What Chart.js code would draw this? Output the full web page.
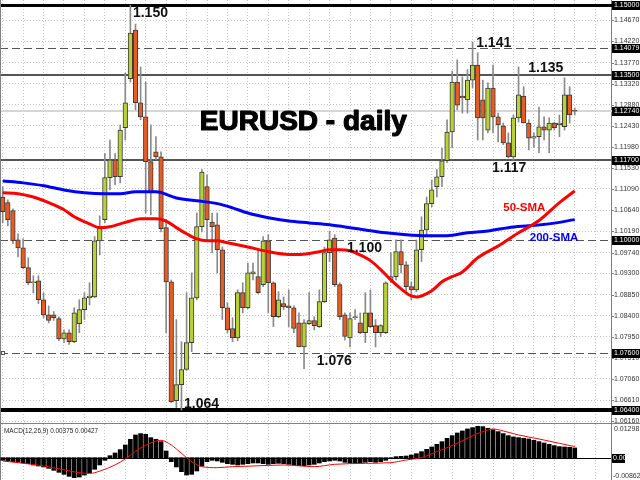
<!DOCTYPE html>
<html>
<head>
<meta charset="utf-8">
<script src="https://cdn.jsdelivr.net/npm/chart.js@4.4.1/dist/chart.umd.min.js"></script>
<style>
  html, body { margin: 0; padding: 0; background: #fff; }
  #wrap { position: relative; width: 640px; height: 480px; overflow: hidden; background: #fff; }
  #c_main { position: absolute; left: 0; top: 0; }
  #sep { position: absolute; left: 0; top: 423px; width: 640px; height: 1px; background: #808080; }
  #c_macd { position: absolute; left: 0; top: 424px; }
</style>
</head>
<body>
<div id="wrap">
  <canvas id="c_main" width="640" height="423"></canvas>
  <div id="sep"></div>
  <canvas id="c_macd" width="640" height="56"></canvas>
</div>
<script>
// EURUSD daily candles (oldest first)
const opens = [1.1092,1.1080,1.1063,1.1001,1.0984,1.0942,1.0910,1.0914,1.0874,1.0842,
  1.0842,1.0834,1.0791,1.0804,1.0785,1.0823,1.0853,1.0878,1.0880,1.0999,
  1.1044,1.1133,1.1171,1.1135,1.1239,1.1343,1.1446,1.1292,1.1262,1.1167,
  1.1188,1.1177,1.1027,1.0912,1.0660,1.0694,1.0726,1.0783,1.0878,1.1029,
  1.1114,1.1039,1.1033,1.0980,1.0857,1.0813,1.0793,1.0889,1.0857,1.0929,
  1.0923,1.0906,1.0999,1.0910,1.0838,1.0866,1.0861,1.0857,1.0825,1.0774,
  1.0823,1.0830,1.0817,1.0870,1.0974,1.1005,1.0906,1.0842,1.0793,1.0836,
  1.0825,1.0804,1.0846,1.0819,1.0804,1.0804,1.0916,1.0923,1.0976,1.0948,
  1.0902,1.0895,1.0980,1.1022,1.1078,1.1114,1.1135,1.1169,1.1230,1.1336,
  1.1306,1.1298,1.1340,1.1372,1.1298,1.1234,1.1323,1.1262,1.1243,1.1207,
  1.1177,1.1260,1.1306,1.1249,1.1217,1.1220,1.1241,1.1234,1.1249,1.1245,
  1.1241,1.1309,1.1275]
const highs = [1.1114,1.1086,1.1067,1.1014,1.1003,1.0963,1.0925,1.0925,1.0889,1.0861,
  1.0849,1.0838,1.0810,1.0810,1.0857,1.0874,1.0889,1.0910,1.1008,1.1052,
  1.1184,1.1213,1.1184,1.1245,1.1355,1.1499,1.1459,1.1368,1.1336,1.1245,
  1.1220,1.1188,1.1044,1.0916,1.0832,1.0785,1.0889,1.0931,1.1058,1.1150,
  1.1139,1.1058,1.1058,1.0986,1.0868,1.0836,1.0895,1.0910,1.0952,1.0952,
  1.0980,1.1008,1.1012,1.0912,1.0891,1.0880,1.0895,1.0861,1.0846,1.0832,
  1.0889,1.0838,1.0895,1.0986,1.1020,1.1012,1.0910,1.0846,1.0846,1.0853,
  1.0846,1.0889,1.0895,1.0832,1.0821,1.0912,1.0974,1.1001,1.1001,1.0955,
  1.0912,1.1001,1.1050,1.1092,1.1128,1.1150,1.1196,1.1256,1.1359,1.1383,
  1.1347,1.1362,1.1421,1.1398,1.1340,1.1334,1.1372,1.1270,1.1249,1.1228,
  1.1266,1.1368,1.1326,1.1256,1.1228,1.1283,1.1262,1.1260,1.1251,1.1266,
  1.1345,1.1326,1.1281]
const lows = [1.1037,1.1031,1.0993,1.0965,1.0940,1.0906,1.0889,1.0866,1.0836,1.0825,
  1.0830,1.0787,1.0783,1.0779,1.0783,1.0804,1.0832,1.0863,1.0878,1.0969,
  1.1037,1.1107,1.1118,1.1122,1.1213,1.1336,1.1277,1.1256,1.1058,1.1054,
  1.1171,1.1018,1.0804,1.0656,1.0645,1.0640,1.0724,1.0764,1.0874,1.1018,
  1.1001,1.0974,1.0931,1.0832,1.0804,1.0785,1.0787,1.0846,1.0855,1.0916,
  1.0887,1.0902,1.0846,1.0817,1.0836,1.0853,1.0817,1.0804,1.0774,1.0728,
  1.0821,1.0810,1.0815,1.0868,1.0955,1.0902,1.0832,1.0789,1.0774,1.0832,
  1.0802,1.0783,1.0815,1.0774,1.0796,1.0802,1.0910,1.0916,1.0931,1.0889,
  1.0874,1.0891,1.0955,1.1008,1.1071,1.1092,1.1114,1.1165,1.1196,1.1277,
  1.1270,1.1270,1.1323,1.1213,1.1213,1.1228,1.1228,1.1209,1.1203,1.1175,
  1.1170,1.1251,1.1249,1.1192,1.1198,1.1186,1.1213,1.1186,1.1234,1.1220,
  1.1234,1.1249,1.1266]
const closes = [1.1061,1.1044,1.0999,1.0984,1.0942,1.0910,1.0912,1.0874,1.0842,1.0830,
  1.0836,1.0791,1.0804,1.0785,1.0846,1.0853,1.0878,1.0882,1.0999,1.1029,
  1.1133,1.1171,1.1135,1.1234,1.1292,1.1440,1.1292,1.1262,1.1167,1.1101,
  1.1177,1.1025,1.0912,1.0658,1.0694,1.0726,1.0783,1.0878,1.1029,1.1145,
  1.1044,1.1029,1.0980,1.0857,1.0810,1.0793,1.0889,1.0857,1.0931,1.0933,
  1.0889,1.0999,1.0910,1.0838,1.0874,1.0859,1.0857,1.0813,1.0774,1.0825,
  1.0830,1.0819,1.0870,1.0974,1.1001,1.0906,1.0838,1.0796,1.0834,1.0838,
  1.0804,1.0846,1.0817,1.0804,1.0819,1.0910,1.0923,1.0976,1.0948,1.0902,
  1.0895,1.0980,1.1022,1.1078,1.1107,1.1135,1.1169,1.1230,1.1336,1.1287,
  1.1302,1.1340,1.1372,1.1260,1.1260,1.1323,1.1262,1.1245,1.1207,1.1177,
  1.1260,1.1309,1.1249,1.1217,1.1220,1.1241,1.1234,1.1249,1.1239,1.1249,
  1.1309,1.1266,1.1274]

// moving averages, read at a few candles
const sma50Idx = [0,3,6,9,12,14,17,19,21,23,25,27,30,32,34,36,38,40,42,44,48,52,56,58,60,62,64,66,68,70,72,74,76,78,80,81,82,84,86,88,90,93,97,101,105,109,112]
const sma50Val = [1.1101,1.1099,1.1092,1.1080,1.1065,1.1050,1.1035,1.1027,1.1029,1.1035,1.1041,1.1046,1.1046,1.1041,1.1027,1.1014,1.1003,1.0999,1.0999,1.0995,1.0986,1.0976,1.0970,1.0970,1.0972,1.0976,1.0980,1.0980,1.0978,1.0969,1.0957,1.0938,1.0916,1.0897,1.0882,1.0880,1.0882,1.0893,1.0912,1.0923,1.0933,1.0963,1.0988,1.1016,1.1042,1.1080,1.1105]
const sma200Idx = [0,4,8,12,16,20,23,26,30,34,38,42,45,48,52,56,60,64,68,71,75,79,83,87,91,95,99,103,107,112]
const sma200Val = [1.1126,1.1122,1.1116,1.1107,1.1101,1.1099,1.1099,1.1103,1.1103,1.1090,1.1084,1.1078,1.1069,1.1058,1.1048,1.1041,1.1037,1.1033,1.1027,1.1022,1.1016,1.1012,1.1010,1.1010,1.1016,1.1020,1.1027,1.1031,1.1035,1.1044]

// MACD(12,26,9): main as histogram, signal as line
const macdMain = [-0.00103,-0.00129,-0.00154,-0.00180,-0.00206,-0.00232,-0.00283,-0.00322,-0.00360,-0.00412,
  -0.00489,-0.00566,-0.00644,-0.00721,-0.00772,-0.00746,-0.00669,-0.00579,-0.00450,-0.00283,
  -0.00103,0.00077,0.00180,0.00309,0.00489,0.00708,0.00875,0.00927,0.00901,0.00772,
  0.00708,0.00618,0.00257,-0.00154,-0.00360,-0.00541,-0.00669,-0.00644,-0.00515,-0.00322,
  -0.00154,-0.00103,-0.00129,-0.00180,-0.00232,-0.00257,-0.00283,-0.00257,-0.00232,-0.00206,
  -0.00206,-0.00232,-0.00257,-0.00232,-0.00219,-0.00232,-0.00257,-0.00283,-0.00309,-0.00309,
  -0.00283,-0.00257,-0.00206,-0.00154,-0.00129,-0.00103,-0.00129,-0.00180,-0.00206,-0.00206,
  -0.00193,-0.00180,-0.00154,-0.00180,-0.00154,-0.00103,-0.00026,0.00039,0.00051,0.00064,
  0.00103,0.00154,0.00232,0.00322,0.00412,0.00515,0.00618,0.00746,0.00849,0.00952,
  0.01030,0.01107,0.01158,0.01210,0.01197,0.01133,0.01081,0.01004,0.00927,0.00849,
  0.00798,0.00772,0.00746,0.00721,0.00669,0.00618,0.00566,0.00515,0.00463,0.00425,
  0.00412,0.00400,0.00375]
const signalIdx = [0,7,11,15,17,19,22,24,26,29,31,33,35,37,39,42,45,49,55,61,65,71,76,79,82,85,89,92,95,96,98,101,105,109,112]
const signalVal = [-0.00129,-0.00290,-0.00430,-0.00580,-0.00610,-0.00520,-0.00280,-0.00050,0.00250,0.00570,0.00669,0.00489,0.00167,-0.00154,-0.00347,-0.00386,-0.00347,-0.00322,-0.00283,-0.00347,-0.00257,-0.00219,-0.00193,-0.00090,0.00000,0.00232,0.00553,0.00849,0.01068,0.01107,0.01030,0.00875,0.00721,0.00553,0.00427]

// right axis
const priceTicks = ['1.14670','1.14220','1.13770','1.13320','1.12880','1.12430','1.11980','1.11530','1.11090','1.10640',
  '1.10190','1.09740','1.09300','1.08850','1.08400','1.07950','1.07510','1.07060','1.06610','1.06160']
const levelVals = ['1.15000','1.14079','1.13500','1.12740','1.11700','1.10000','1.07600','1.06400']
const macdTicks = ['0.01298','-0.00862']

const FONT = '"Liberation Sans", Arial, sans-serif'
const N = opens.length
const idx = opens.map((_, i) => i)
const gridIdx = []
for (let i = 0; i < 120; i += 4) gridIdx.push(i)

const BULL = '#b8d236'
const BEAR = '#e65c22'
const isBull = idx.map(i => closes[i] >= opens[i])

const xAxis = () => ({
  type: 'linear', min: -0.53, max: 119.1, offset: false,
  afterBuildTicks: s => { s.ticks = gridIdx.map(v => ({ value: v })) },
  afterFit: s => { s.height = 0 },
  ticks: { display: false },
  grid: { color: '#c4c4c4', drawTicks: false, offset: false },
  border: { display: false, dash: [1, 2] }
})

// horizontal levels, same order as levelVals
const levelStyle = [
  { c: '#000', w: 3 }, { c: '#555', w: 1, d: [8, 4] }, { c: '#555', w: 2 }, { c: '#d6d6d6', w: 2 },
  { c: '#555', w: 2 }, { c: '#555', w: 1, d: [8, 4] }, { c: '#555', w: 1, d: [8, 4] }, { c: '#000', w: 4 }
]

const mainOverlay = {
  id: 'mainOverlay',
  beforeDatasetsDraw(chart) {
    const { ctx, chartArea: a, scales: { y } } = chart
    ctx.save()
    levelVals.forEach((v, k) => {
      const st = levelStyle[k]
      let py = Math.round(y.getPixelForValue(parseFloat(v)))
      if (st.w % 2) py += 0.5
      ctx.strokeStyle = st.c
      ctx.lineWidth = st.w
      ctx.setLineDash(st.d || [])
      ctx.beginPath(); ctx.moveTo(a.left, py); ctx.lineTo(a.right + 1, py); ctx.stroke()
    })
    // anchor square of the 1.076 line
    const sy = Math.round(y.getPixelForValue(1.076))
    ctx.setLineDash([])
    ctx.lineWidth = 1
    ctx.strokeStyle = '#555'
    ctx.fillStyle = '#fff'
    ctx.fillRect(1.5, sy - 1.5, 3, 3)
    ctx.strokeRect(1.5, sy - 1.5, 3, 3)
    // left border
    ctx.strokeStyle = '#808080'
    ctx.beginPath(); ctx.moveTo(0.5, a.top); ctx.lineTo(0.5, a.bottom); ctx.stroke()
    ctx.restore()
  },
  afterDraw(chart) {
    const { ctx, chartArea: a, scales: { x, y } } = chart
    ctx.save()
    // tick labels
    ctx.font = '7px ' + FONT
    ctx.textBaseline = 'middle'
    ctx.fillStyle = '#333'
    ctx.strokeStyle = '#808080'
    ctx.lineWidth = 1
    priceTicks.forEach(t => {
      const py = Math.round(y.getPixelForValue(parseFloat(t)))
      ctx.beginPath(); ctx.moveTo(a.right, py + 0.5); ctx.lineTo(a.right + 3, py + 0.5); ctx.stroke()
      ctx.fillText(t, a.right + 3, py + 0.5)
    })
    // boxed level labels
    levelVals.forEach(t => {
      const py = Math.round(y.getPixelForValue(parseFloat(t)))
      ctx.fillStyle = '#000'
      ctx.fillRect(a.right + 1, py - 4, 640 - a.right - 1, 9)
      ctx.fillStyle = '#fff'
      ctx.fillText(t, a.right + 3, py + 0.5)
    })
    // annotations
    const txt = (s, i, v, font, color, heavy) => {
      ctx.font = font
      ctx.fillStyle = color
      ctx.textBaseline = 'alphabetic'
      const px = x.getPixelForValue(i), py = y.getPixelForValue(v)
      ctx.fillText(s, px, py)
      if (heavy) {
        ctx.strokeStyle = color
        ctx.lineWidth = heavy
        ctx.lineJoin = 'round'
        ctx.strokeText(s, px, py)
      }
    }
    const lab = 'bold 14px ' + FONT
    txt('1.150', 25.5, 1.1474, lab, '#111')
    txt('1.141', 92.7, 1.1410, lab, '#111')
    txt('1.135', 102.9, 1.1357, lab, '#111')
    txt('1.117', 95.8, 1.1145, lab, '#111')
    txt('1.100', 67.4, 1.0976, lab, '#111')
    txt('1.076', 61.5, 1.0736, lab, '#111')
    txt('1.064', 35.5, 1.0645, lab, '#111')
    txt('50-SMA', 98, 1.1063, 'bold 11.5px ' + FONT, '#ff0000')
    txt('200-SMA', 103.2, 1.0999, 'bold 11.5px ' + FONT, '#0000ff')
    txt('EURUSD - daily', 38.6, 1.1234, 'bold 28px ' + FONT, '#000', 1.2)
    ctx.restore()
  }
}

new Chart(document.getElementById('c_main'), {
  data: {
    datasets: [
      {
        type: 'line', label: '50-SMA', order: 0,
        data: sma50Idx.map((v, k) => ({ x: v, y: sma50Val[k] })),
        borderColor: '#ff0000', borderWidth: 3, pointRadius: 0,
        cubicInterpolationMode: 'monotone'
      },
      {
        type: 'line', label: '200-SMA', order: 0,
        data: sma200Idx.map((v, k) => ({ x: v, y: sma200Val[k] })),
        borderColor: '#0000ff', borderWidth: 3, pointRadius: 0,
        cubicInterpolationMode: 'monotone'
      },
      {
        type: 'bar', label: 'body', order: 1, grouped: false,
        data: idx.map(i => ({ x: i, y: [opens[i], closes[i]] })),
        backgroundColor: idx.map(i => isBull[i] ? BULL : BEAR),
        borderColor: '#3a3a3a', borderWidth: 1, borderSkipped: false,
        barThickness: 4.6, minBarLength: 1
      },
      {
        type: 'bar', label: 'wick', order: 2, grouped: false,
        data: idx.map(i => ({ x: i, y: [lows[i], highs[i]] })),
        backgroundColor: '#8a8a8a', barThickness: 1
      }
    ]
  },
  options: {
    responsive: false,
    animation: false,
    events: [],
    layout: { padding: 0 },
    plugins: { legend: { display: false }, tooltip: { enabled: false } },
    scales: {
      x: xAxis(),
      y: {
        position: 'right', min: 1.06125, max: 1.151,
        afterBuildTicks: s => { s.ticks = priceTicks.map(t => ({ value: parseFloat(t) })) },
        afterFit: s => { s.width = 29 },
        ticks: { display: false },
        grid: { color: '#c4c4c4', drawTicks: false },
        border: { display: true, color: '#808080', dash: [1, 2] }
      }
    }
  },
  plugins: [mainOverlay]
})

const macdOverlay = {
  id: 'macdOverlay',
  beforeDatasetsDraw(chart) {
    const { ctx, chartArea: a, scales: { y } } = chart
    const zy = Math.round(y.getPixelForValue(0)) + 0.5
    ctx.save()
    ctx.strokeStyle = '#000'
    ctx.lineWidth = 1
    ctx.beginPath(); ctx.moveTo(a.left, zy); ctx.lineTo(a.right, zy); ctx.stroke()
    ctx.strokeStyle = '#808080'
    ctx.beginPath(); ctx.moveTo(0.5, a.top); ctx.lineTo(0.5, a.bottom); ctx.stroke()
    ctx.restore()
  },
  afterDraw(chart) {
    const { ctx, chartArea: a, scales: { y } } = chart
    ctx.save()
    ctx.font = '7px ' + FONT
    ctx.fillStyle = '#333'
    ctx.textBaseline = 'top'
    ctx.fillText(macdTicks[0], a.right + 3, a.top + 2)
    ctx.textBaseline = 'bottom'
    ctx.fillText(macdTicks[1], a.right + 2, a.bottom)
    const zy = Math.round(y.getPixelForValue(0))
    ctx.fillStyle = '#000'
    ctx.fillRect(a.right + 1, zy - 4, 13, 9)
    ctx.fillStyle = '#fff'
    ctx.textBaseline = 'middle'
    ctx.fillText('0.00', a.right + 2, zy + 0.5)
    ctx.fillStyle = '#222'
    ctx.font = '6.4px ' + FONT
    ctx.textBaseline = 'top'
    ctx.fillText('MACD(12,26,9) ' + macdMain[N - 1].toFixed(5) + ' ' + signalVal[signalVal.length - 1].toFixed(5), 4, a.top + 4)
    ctx.restore()
  }
}

new Chart(document.getElementById('c_macd'), {
  data: {
    datasets: [
      {
        type: 'line', label: 'signal', order: 0,
        data: signalIdx.map((v, k) => ({ x: v, y: signalVal[k] })),
        borderColor: '#ff0000', borderWidth: 1, pointRadius: 0,
        cubicInterpolationMode: 'monotone'
      },
      {
        type: 'bar', label: 'macd', order: 1,
        data: idx.map(i => ({ x: i, y: macdMain[i] })),
        backgroundColor: '#000', barThickness: 4
      }
    ]
  },
  options: {
    responsive: false,
    animation: false,
    events: [],
    layout: { padding: 0 },
    plugins: { legend: { display: false }, tooltip: { enabled: false } },
    scales: {
      x: xAxis(),
      y: {
        position: 'right', min: -0.00862, max: 0.01298,
        afterFit: s => { s.width = 29 },
        ticks: { display: false },
        grid: { display: false },
        border: { display: true, color: '#808080' }
      }
    }
  },
  plugins: [macdOverlay]
})
</script>
</body>
</html>
